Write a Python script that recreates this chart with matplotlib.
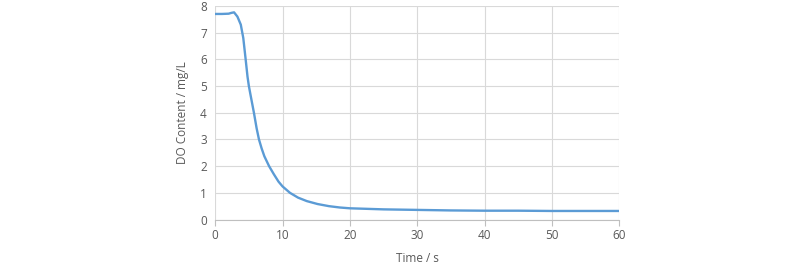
import matplotlib

matplotlib.use("Agg")
import matplotlib.pyplot as plt

# DO content
time_s = [0, 1, 2, 2.4, 2.8, 3.3, 3.8, 4.17, 4.5, 4.8, 5.0, 5.26, 5.75,
          6.15, 6.5, 6.9, 7.3, 8.0, 8.7, 9.4, 10.0, 11.1, 12.3, 13.6, 15.2,
          16.9, 18.5, 20, 25, 30, 35, 40, 45, 50, 55, 60]
do_mgL = [7.70, 7.70, 7.71, 7.74, 7.76, 7.60, 7.30, 6.80, 6.05, 5.35, 5.00,
          4.65, 4.00, 3.42, 3.00, 2.66, 2.37, 2.00, 1.70, 1.42, 1.24, 1.00,
          0.82, 0.69, 0.58, 0.50, 0.45, 0.42, 0.38, 0.36, 0.34, 0.33, 0.33,
          0.32, 0.32, 0.32]
x_ticks = [0, 10, 20, 30, 40, 50, 60]
y_ticks = [0, 1, 2, 3, 4, 5, 6, 7, 8]

TEXT = "#595959"
GRID = "#D9D9D9"

plt.rcParams["font.family"] = ["Open Sans", "DejaVu Sans"]

fig = plt.figure(figsize=(8, 2.7), dpi=100)
ax = fig.add_axes([0.269, 0.187, 0.505, 0.791])

ax.plot(time_s, do_mgL, color="#5B9BD5", linewidth=1.7,
        solid_capstyle="round", solid_joinstyle="round")

ax.set_xlim(0, 60)
ax.set_ylim(0, 8)
ax.set_xticks(x_ticks)
ax.set_yticks(y_ticks)
ax.grid(True, color=GRID, linewidth=0.8)
ax.set_axisbelow(True)

for side in ("top", "right", "left"):
    ax.spines[side].set_visible(False)
ax.spines["bottom"].set_color("#BFBFBF")
ax.spines["bottom"].set_linewidth(0.8)

ax.tick_params(axis="x", colors="#BFBFBF", labelcolor=TEXT, labelsize=8.5,
               length=4, width=0.8, pad=3)
ax.tick_params(axis="y", length=0, labelcolor=TEXT, labelsize=8.5, pad=6)

ax.set_xlabel("Time / s", color=TEXT, fontsize=8.5, labelpad=7)
ax.set_ylabel("DO Content / mg/L", color=TEXT, fontsize=8.5, labelpad=8)

fig.savefig("out.png", dpi=100)
plt.close(fig)
